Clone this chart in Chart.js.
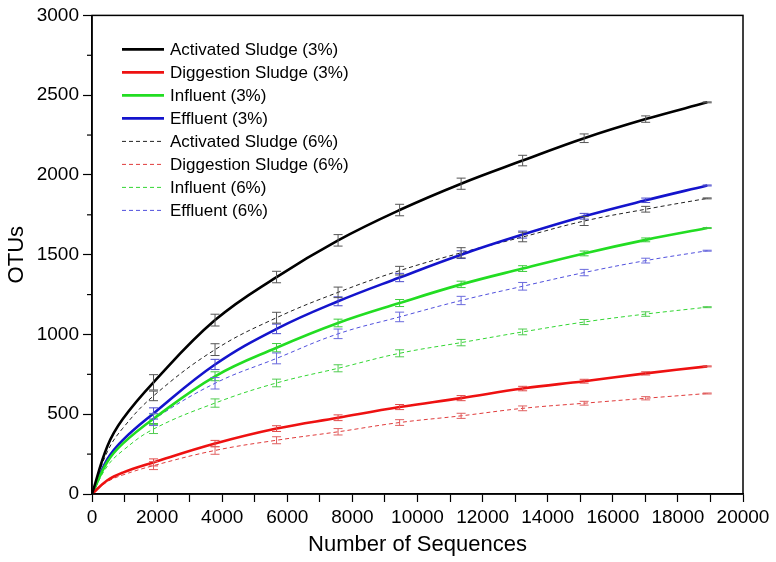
<!DOCTYPE html>
<html>
<head>
<meta charset="utf-8">
<script src="https://cdn.jsdelivr.net/npm/chart.js@4.4.1/dist/chart.umd.min.js"></script>
<style>
  html, body { margin: 0; padding: 0; background: #fff; }
  #wrap { width: 776px; height: 562px; }
</style>
</head>
<body>
<div id="wrap"><canvas id="graficoOtus" width="776" height="562"></canvas></div>
<script>
const sequences = [0, 472, 945, 1890, 3780, 5670, 7560, 9450, 11340, 13230, 15120, 17010, 18900];

const activated3 = [0, 300, 470, 700, 1090, 1360, 1590, 1780, 1945, 2090, 2230, 2350, 2455];
const digestion3 = [0, 86, 134, 198, 316, 410, 478, 545, 601, 661, 707, 756, 800];
const influent3 = [0, 202, 316, 472, 738, 917, 1072, 1197, 1314, 1413, 1508, 1593, 1667];
const effluent3 = [0, 218, 338, 505, 812, 1035, 1208, 1357, 1500, 1626, 1741, 1841, 1934];
const activated6 = [0, 265, 412, 615, 905, 1105, 1264, 1400, 1512, 1611, 1711, 1785, 1853];
const digestion6 = [0, 77, 119, 178, 273, 337, 390, 448, 490, 537, 569, 600, 630];
const influent6 = [0, 175, 272, 407, 570, 696, 788, 882, 949, 1016, 1078, 1128, 1171];
const effluent6 = [0, 201, 312, 467, 694, 850, 1004, 1110, 1213, 1302, 1388, 1463, 1525];

// half height of the error bars (null = no bar)
const activated3Err = [null, null, null, 48, 37, 36, 36, 36, 35, 33, 27, 20, 3];
const digestion3Err = [null, null, null, 22, 20, 18, 18, 16, 16, 14, 12, 10, 3];
const influent3Err = [null, null, null, 30, 28, 26, 24, 22, 20, 18, 15, 12, 3];
const effluent3Err = [null, null, null, 35, 32, 30, 28, 26, 24, 22, 18, 14, 3];
const activated6Err = [null, null, null, 30, 37, 34, 33, 27, 32, 30, 28, 18, 3];
const digestion6Err = [null, null, null, 25, 24, 22, 20, 18, 16, 15, 12, 10, 3];
const influent6Err = [null, null, null, 28, 26, 24, 22, 22, 20, 18, 16, 14, 3];
const effluent6Err = [null, null, null, 38, 36, 34, 30, 30, 26, 24, 20, 15, 3];

const seriesLabels = [
  'Activated Sludge (3%)', 'Diggestion Sludge (3%)', 'Influent (3%)', 'Effluent (3%)',
  'Activated Sludge (6%)', 'Diggestion Sludge (6%)', 'Influent (6%)', 'Effluent (6%)'
];

const xTicks = [0, 2000, 4000, 6000, 8000, 10000, 12000, 14000, 16000, 18000, 20000];
const yTicks = [0, 500, 1000, 1500, 2000, 2500, 3000];

const fontFamily = '"Liberation Sans", Arial, Helvetica, sans-serif';

function pontos(valores) {
  return sequences.map((x, i) => ({ x: x, y: valores[i] }));
}

function serie(label, valores, erros, cor, corErro, tracejado) {
  return {
    label: label,
    data: pontos(valores),
    erros: erros,
    corErro: corErro,
    borderColor: cor,
    backgroundColor: cor,
    borderWidth: tracejado ? 1 : 2.6,
    borderDash: tracejado ? [4, 3] : [],
    pointRadius: 0,
    tension: 0.4,
    fill: false
  };
}

// error bars drawn through the scales
const errorBars = {
  id: 'errorBars',
  afterDatasetsDraw(chart) {
    const ctx = chart.ctx;
    const xs = chart.scales.x;
    const ys = chart.scales.y;
    ctx.save();
    chart.data.datasets.forEach(ds => {
      ctx.strokeStyle = ds.corErro;
      ctx.lineWidth = 1;
      ctx.setLineDash([]);
      ds.data.forEach((p, i) => {
        const e = ds.erros[i];
        if (e == null) return;
        const px = xs.getPixelForValue(p.x);
        const top = ys.getPixelForValue(p.y + e);
        const bot = ys.getPixelForValue(p.y - e);
        ctx.beginPath();
        ctx.moveTo(px, top); ctx.lineTo(px, bot);
        ctx.moveTo(px - 4.5, top); ctx.lineTo(px + 4.5, top);
        ctx.moveTo(px - 4.5, bot); ctx.lineTo(px + 4.5, bot);
        ctx.stroke();
      });
    });
    ctx.restore();
  }
};

// frame, minor y ticks and the legend inside the plot
const frameAndLegend = {
  id: 'frameAndLegend',
  afterDraw(chart) {
    const ctx = chart.ctx;
    const a = chart.chartArea;
    const ys = chart.scales.y;
    ctx.save();
    ctx.strokeStyle = '#000';
    ctx.lineWidth = 1.5;
    ctx.strokeRect(a.left, a.top, a.right - a.left, a.bottom - a.top);

    ctx.lineWidth = 1.2;
    for (let v = 250; v < 3000; v += 500) {
      const py = ys.getPixelForValue(v);
      ctx.beginPath();
      ctx.moveTo(a.left - 5, py);
      ctx.lineTo(a.left, py);
      ctx.stroke();
    }

    ctx.font = '17px ' + fontFamily;
    ctx.textBaseline = 'middle';
    ctx.fillStyle = '#000';
    chart.data.datasets.forEach((ds, i) => {
      const y = a.top + 34 + i * 23;
      const x0 = a.left + 30;
      ctx.strokeStyle = ds.borderColor;
      ctx.lineWidth = ds.borderWidth;
      ctx.setLineDash(ds.borderDash);
      ctx.beginPath();
      ctx.moveTo(x0, y);
      ctx.lineTo(x0 + 42, y);
      ctx.stroke();
      ctx.setLineDash([]);
      ctx.fillText(ds.label, x0 + 48, y + 1);
    });
    ctx.restore();
  }
};

document.addEventListener('DOMContentLoaded', function () {
  const ctx = document.getElementById('graficoOtus').getContext('2d');
  new Chart(ctx, {
    type: 'line',
    data: {
      datasets: [
        serie(seriesLabels[0], activated3, activated3Err, '#000000', '#555555', false),
        serie(seriesLabels[1], digestion3, digestion3Err, '#ee1111', '#e04a4a', false),
        serie(seriesLabels[2], influent3, influent3Err, '#22dd22', '#3ccc3c', false),
        serie(seriesLabels[3], effluent3, effluent3Err, '#1414cc', '#4a4acc', false),
        serie(seriesLabels[4], activated6, activated6Err, '#222222', '#555555', true),
        serie(seriesLabels[5], digestion6, digestion6Err, '#e03c3c', '#e06060', true),
        serie(seriesLabels[6], influent6, influent6Err, '#33d633', '#50cc50', true),
        serie(seriesLabels[7], effluent6, effluent6Err, '#5050dd', '#6a6add', true)
      ]
    },
    options: {
      responsive: false,
      animation: false,
      layout: { padding: { top: 10, right: 33, left: 0, bottom: 0 } },
      plugins: {
        legend: { display: false },
        tooltip: { enabled: false }
      },
      scales: {
        x: {
          type: 'linear',
          min: 0,
          max: 20000,
          afterFit: s => { s.height = 68; },
          afterBuildTicks: s => {
            const t = [];
            for (let v = 0; v <= 20000; v += 1000) t.push({ value: v });
            s.ticks = t;
          },
          ticks: {
            autoSkip: false,
            maxRotation: 0,
            padding: 4,
            color: '#000',
            font: { family: fontFamily, size: 19 },
            callback: v => xTicks.includes(v) ? String(v) : ''
          },
          grid: { drawOnChartArea: false, drawTicks: true, tickLength: 8, tickColor: '#000', tickWidth: 1.2 },
          border: { display: true, color: '#000', width: 1.5 },
          title: {
            display: true,
            text: 'Number of Sequences',
            color: '#000',
            font: { family: fontFamily, size: 22 },
            padding: { top: 4, bottom: 4 }
          }
        },
        y: {
          type: 'linear',
          min: 0,
          max: 3000,
          afterFit: s => { s.width = 92; },
          afterBuildTicks: s => { s.ticks = yTicks.map(v => ({ value: v })); },
          ticks: {
            padding: 4,
            color: '#000',
            font: { family: fontFamily, size: 19 },
            callback: v => String(v)
          },
          grid: { drawOnChartArea: false, drawTicks: true, tickLength: 9, tickColor: '#000', tickWidth: 1.2 },
          border: { display: true, color: '#000', width: 1.5 },
          title: {
            display: true,
            text: 'OTUs',
            color: '#000',
            font: { family: fontFamily, size: 22 },
            padding: { top: 4, bottom: 4 }
          }
        }
      }
    },
    plugins: [errorBars, frameAndLegend]
  });
});
</script>
</body>
</html>
